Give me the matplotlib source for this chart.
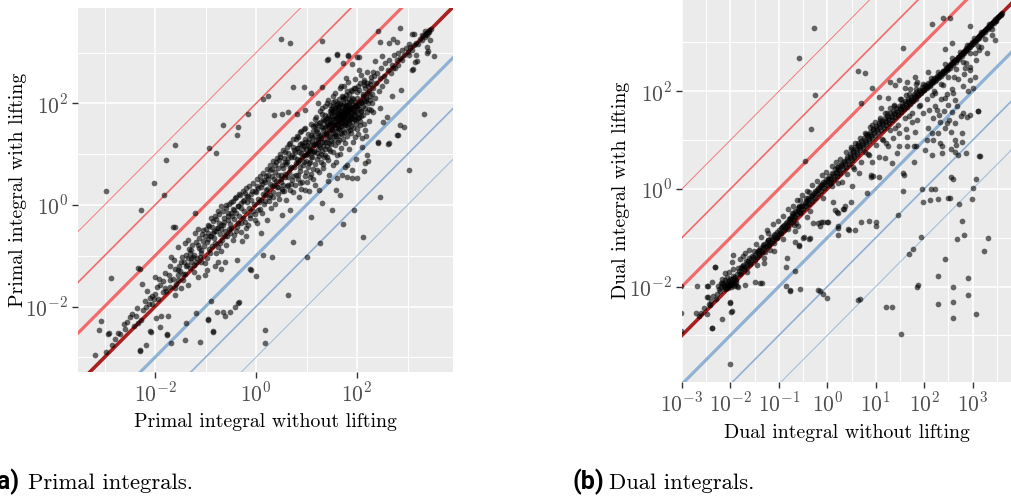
import matplotlib
matplotlib.use("Agg")
import matplotlib.pyplot as plt
import numpy as np

# values are log10 exponents: (without lifting, with lifting)
primal_sparse = [
    (-2.97, 0.28), (-2.03, 0.43), (-1.79, 0.89), (-1.60, 1.18), (-1.82, 0.20), (-2.28, -0.09),
    (-2.88, -1.43), (-2.34, -1.25), (-1.64, -0.43), (-0.93, 1.13), (-0.79, 1.03), (-0.66, 1.57),
    (-0.36, 1.54), (-0.38, 1.38), (-0.15, 1.80), (0.13, 2.08), (0.50, 3.27), (0.67, 3.20),
    (1.30, 3.23), (0.74, 2.33), (0.95, 2.32), (1.43, 2.87), (1.60, 2.95), (1.83, 2.95),
    (2.03, 2.92), (2.46, 3.22), (2.64, 3.20), (2.85, 3.49), (2.80, 3.22), (3.02, 3.18),
    (3.13, 3.37), (3.28, 3.35), (3.45, 3.25), (3.53, 2.93), (3.38, 2.99), (3.17, 2.95),
    (3.10, 2.67), (3.15, 2.82), (3.02, 0.69), (3.33, 1.79), (2.46, 0.15), (2.11, -0.64),
    (2.92, 1.54), (2.79, 1.38), (2.62, 1.21), (2.42, 1.22), (2.19, 0.98), (2.16, 0.83),
    (1.93, -0.10), (1.73, -0.37), (1.66, 0.20), (1.50, -0.10), (1.30, 0.03), (1.08, -0.24),
    (1.27, -0.75), (1.00, -1.02), (0.74, -0.72), (0.64, -1.77), (0.32, -1.02), (0.00, -1.40),
    (-0.11, -1.27), (0.17, -2.46), (0.18, -2.72), (-0.35, -1.94), (-0.51, -2.10), (-0.65, -2.10),
    (-0.86, -2.51), (-0.96, -2.26), (-1.11, -2.69), (-1.41, -2.66), (-1.69, -2.72), (-1.76, -2.56),
    (-2.07, -2.51), (-2.30, -2.86), (-2.73, -2.53), (-2.92, -2.53), (-3.11, -2.47), (-3.07, -2.28),
    (-3.19, -2.95), (-2.97, -2.89), (-2.86, -2.76),
]

primal_band_low = [
    (-2.79, -2.64), (-2.70, -2.54), (-2.93, -2.54), (-2.50, -2.21), (-2.36, -2.03), (-2.34, -2.33),
    (-2.27, -2.26), (-2.17, -2.76), (-2.30, -2.87), (-2.10, -2.49), (-1.99, -2.23), (-1.88, -2.19),
    (-1.74, -2.19), (-1.76, -2.55), (-1.38, -2.32), (-1.18, -2.12), (-0.95, -2.25), (-0.85, -2.49),
    (-0.77, -2.10), (-0.62, -2.19), (-0.90, -1.89), (-0.41, -2.01), (-0.34, -1.92), (-0.09, -1.28),
    (0.14, -0.98), (0.10, -0.56), (-0.37, -1.08), (-0.75, -1.12), (-0.81, -1.21), (-0.69, -1.27),
    (-1.02, -1.38), (-0.98, -1.28), (-1.15, -1.42), (-1.35, -1.57), (-1.48, -1.64), (-1.61, -1.64),
    (-2.01, -1.42), (-2.30, -1.27), (-2.09, -1.84), (-2.05, -1.80), (-2.02, -1.86), (-2.17, -2.00),
    (-2.24, -2.07), (-1.97, -1.61), (-1.91, -1.57), (-1.81, -1.64), (-1.71, -1.61), (-1.60, -1.77),
    (-1.54, -1.48), (-1.73, -1.38), (-1.61, -1.26), (-1.54, -1.28), (-1.41, -1.36), (-1.43, -1.12),
    (-1.31, -0.95), (-1.25, -1.02), (-1.18, -1.12), (-1.08, -0.94), (-1.02, -1.14), (-0.94, -0.87),
    (-0.82, -0.74), (-0.72, -0.75), (-0.69, -0.90), (-0.62, -0.62), (-0.52, -0.55), (-0.46, -0.69),
    (-0.37, -0.43), (-0.29, -0.53), (-0.22, -0.33), (-0.19, -0.62), (-0.12, -0.20), (-0.03, -0.30),
    (0.04, -0.10), (0.09, 0.10), (0.17, 0.20), (-1.68, -1.02), (-1.54, -0.82), (-1.41, -0.75),
    (-1.35, -0.69), (-1.21, -0.56), (-1.15, -0.48), (-1.05, -0.49), (-0.95, -0.39), (-0.89, -0.26),
    (-0.82, -0.22), (-0.75, -0.11), (-0.69, -0.03), (-0.59, 0.00), (-0.49, 0.06), (-0.42, 0.13),
    (-0.32, 0.20), (-0.22, 0.23), (-1.71, -1.20), (-1.81, -1.34), (-2.25, -1.56), (-1.61, -0.43),
    (-1.20, -0.15), (-0.62, -1.12), (-1.91, -2.40), (-2.60, -2.45), (-2.55, -2.30), (-2.45, -2.15),
    (-2.42, -2.38), (-2.20, -1.90), (-2.12, -1.95), (-2.00, -1.75), (-1.95, -1.85), (-1.85, -1.50),
    (-1.78, -1.70), (-1.65, -1.45), (-1.58, -1.55), (-1.50, -1.30), (-1.45, -1.48), (-1.38, -1.20),
    (-1.30, -1.25), (-1.28, -1.05), (-1.22, -1.32), (-1.12, -0.85), (-1.10, -1.02), (-1.05, -0.70),
    (-0.98, -1.05), (-0.92, -0.62), (-0.88, -0.80), (-0.85, -0.55), (-0.80, -0.95), (-0.78, -0.45),
    (-0.72, -0.58), (-0.65, -0.40), (-0.60, -0.78), (-0.56, -0.30), (-0.54, -0.48), (-0.48, -0.22),
    (-0.44, -0.60), (-0.40, -0.15), (-0.35, -0.35), (-0.30, -0.05), (-0.27, -0.70), (-0.25, -0.25),
    (-0.18, 0.05), (-0.15, -0.40), (-0.10, 0.10), (-0.06, -0.12), (0.00, 0.25), (0.02, -0.35),
    (0.06, 0.05),
    (-0.98, -0.72), (-0.95, -0.55), (-0.91, -0.95), (-0.87, -0.43), (-0.84, -0.66), (-0.79, -0.52),
    (-0.76, -0.82), (-0.73, -0.35), (-0.70, -0.48), (-0.67, -0.69), (-0.64, -0.25), (-0.61, -0.52),
    (-0.58, -0.62), (-0.55, -0.15), (-0.52, -0.38), (-0.49, -0.45), (-0.46, -0.08), (-0.43, -0.28),
    (-0.39, -0.52), (-0.36, -0.02), (-0.33, -0.22), (-0.29, -0.35), (-0.26, 0.08), (-0.23, -0.12),
    (-0.20, -0.45), (-0.17, 0.18), (-0.14, -0.05), (-0.11, -0.25), (-0.08, 0.28), (-0.05, 0.02),
    (-0.02, -0.18), (-1.35, -1.05), (-1.28, -0.88), (-1.22, -1.18), (-1.15, -0.78), (-1.08, -1.12),
    (-1.02, -0.62), (-1.48, -1.12), (-1.55, -1.38), (-1.62, -1.08), (-1.70, -1.48), (-1.85, -1.72),
    (-1.92, -1.45), (-2.05, -1.95), (-2.15, -1.70), (-2.38, -2.18), (-2.62, -2.35),
]

primal_band_fill = [
    (-1.52, -1.21), (-1.47, -1.02), (-1.44, -1.35), (-1.39, -0.98), (-1.36, -1.18), (-1.33, -0.86),
    (-1.29, -1.12), (-1.26, -0.79), (-1.23, -0.98), (-1.19, -0.72), (-1.16, -1.05), (-1.13, -0.66),
    (-1.09, -0.88), (-1.06, -0.58), (-1.03, -0.81), (-0.99, -0.48), (-0.96, -0.68), (-0.93, -0.42),
    (-0.89, -0.61), (-0.86, -0.32), (-0.83, -0.52), (-0.79, -0.27), (-0.76, -0.46), (-0.73, -0.18),
    (-0.69, -0.39), (-0.66, -0.12), (-0.63, -0.33), (-0.59, -0.06), (-0.56, -0.22), (-0.53, 0.02),
    (-0.49, -0.16), (-0.46, 0.08), (-0.43, -0.09), (-0.39, 0.15), (-0.36, -0.03), (-0.33, 0.21),
    (-0.29, 0.04), (-0.26, 0.27), (-0.23, 0.10), (-0.19, 0.33), (-0.16, 0.15), (-0.13, 0.38),
    (-0.09, 0.22), (-0.06, 0.44), (-0.03, 0.27), (0.01, 0.51), (0.04, 0.33), (0.07, 0.57),
    (0.11, 0.41), (0.14, 0.63), (0.17, 0.46), (0.21, 0.71), (0.24, 0.52), (0.27, 0.78),
    (0.31, 0.58), (0.34, 0.86), (0.37, 0.65), (0.41, 0.93), (0.44, 0.72), (0.47, 1.01),
    (0.51, 0.78), (0.54, 1.08), (0.57, 0.84), (0.61, 1.15), (0.64, 0.92), (0.67, 1.22),
    (0.71, 0.99), (0.74, 1.29), (0.77, 1.05), (0.81, 1.36), (0.84, 1.12), (0.87, 1.43),
    (0.91, 1.18), (0.94, 1.49), (0.97, 1.25), (1.12, 1.56), (1.18, 1.74), (1.24, 1.61),
    (1.31, 1.92), (1.37, 1.68), (1.43, 2.07), (1.50, 1.88), (1.56, 2.21), (1.63, 2.01),
    (1.69, 2.35), (1.76, 2.10), (1.82, 2.42), (1.88, 2.27), (1.95, 2.48), (2.01, 2.35),
    (2.07, 2.56), (2.14, 2.47), (2.20, 2.62), (2.26, 2.38), (2.31, 2.62), (1.36, 1.52),
    (1.47, 1.62), (1.57, 1.69), (1.67, 1.78), (1.77, 1.83), (1.87, 1.90), (1.97, 1.95),
    (2.07, 2.02), (2.17, 2.08), (1.52, 1.94), (1.63, 1.93), (1.73, 2.00), (1.81, 1.95),
    (1.92, 2.08),
]

primal_band_mid = [
    (0.10, 0.35), (0.12, -0.15), (0.15, 0.50), (0.18, 0.08), (0.20, 0.30), (0.22, -0.30),
    (0.24, 0.60), (0.25, 0.15), (0.28, 0.42), (0.30, -0.05), (0.32, 0.70), (0.33, 0.25),
    (0.36, 0.52), (0.38, 0.02), (0.40, 0.85), (0.41, 0.35), (0.44, 0.60), (0.45, 0.12),
    (0.48, 0.95), (0.50, 0.45), (0.51, -0.20), (0.53, 0.72), (0.55, 0.28), (0.57, 1.05),
    (0.58, 0.55), (0.60, 0.10), (0.62, 0.85), (0.63, 0.40), (0.65, 1.20), (0.66, 0.65),
    (0.68, -0.10), (0.70, 0.95), (0.71, 0.50), (0.73, 0.25), (0.74, 1.15), (0.76, 0.75),
    (0.78, 0.40), (0.80, 1.30), (0.81, 0.90), (0.83, 0.60), (0.85, 0.15), (0.86, 1.05),
    (0.88, 0.75), (0.90, 1.45), (0.91, 0.45), (0.93, 1.10), (0.94, 0.85), (0.96, 0.30),
    (0.97, 1.30), (0.98, 0.65), (1.00, 1.00), (0.51, 0.28), (0.67, 0.30), (0.87, 0.43),
    (1.04, 0.28), (1.25, 0.30), (1.43, 0.47), (1.58, 0.30), (1.60, 0.53), (1.80, 0.55),
    (1.90, 0.54), (1.99, 0.53), (1.80, 0.79), (1.70, 0.60), (1.91, 0.68), (2.14, 0.67),
    (2.22, 0.87), (2.42, 1.24), (2.63, 1.22), (2.82, 1.37), (2.32, 1.84), (2.46, 1.91),
    (2.59, 1.73), (2.52, 1.63), (2.85, 1.57), (2.69, 2.14), (2.87, 2.27),
    (0.01, 0.38), (0.04, 0.12), (0.07, -0.08), (0.10, 0.48), (0.13, 0.22), (0.16, 0.02),
    (0.19, 0.58), (0.22, 0.32), (0.25, 0.08), (0.28, 0.68), (0.31, 0.38), (0.34, 0.15),
    (0.37, 0.78), (0.40, 0.48), (0.43, 0.22), (0.46, 0.88), (0.49, 0.52), (0.52, 0.32),
    (0.55, 0.92), (0.58, 0.62), (0.61, 0.38), (0.64, 1.02), (0.67, 0.72), (0.70, 0.42),
    (0.73, 0.58), (0.76, 1.08), (0.79, 0.82),
]

primal_band_core = [
    (1.02, 1.40), (1.03, 0.75), (1.05, 1.15), (1.06, 0.55), (1.08, 1.60), (1.09, 0.95),
    (1.10, 1.25), (1.12, 0.70), (1.13, 1.45), (1.14, 1.05), (1.16, 0.40), (1.17, 1.70),
    (1.18, 1.20), (1.20, 0.90), (1.21, 1.50), (1.22, 1.10), (1.24, 0.65), (1.25, 1.35),
    (1.26, 1.85), (1.28, 1.00), (1.29, 1.55), (1.30, 1.25), (1.32, 0.80), (1.33, 1.70),
    (1.34, 1.40), (1.36, 1.10), (1.37, 1.95), (1.38, 1.55), (1.40, 0.95), (1.41, 1.30),
    (1.42, 1.75), (1.44, 1.45), (1.45, 0.60), (1.46, 1.60), (1.48, 1.20), (1.49, 1.90),
    (1.50, 1.50), (1.52, 1.05), (1.53, 1.70), (1.54, 1.35), (1.56, 2.05), (1.57, 1.60),
    (1.58, 0.85), (1.60, 1.80), (1.61, 1.45), (1.62, 1.25), (1.64, 1.95), (1.65, 1.65),
    (1.66, 1.00), (1.68, 1.85), (1.69, 1.55), (1.70, 2.15), (1.72, 1.75), (1.73, 1.30),
    (1.74, 1.95), (1.76, 1.60), (1.77, 0.75), (1.78, 1.85), (1.80, 1.70), (1.81, 2.25),
    (1.82, 1.45), (1.84, 1.90), (1.85, 1.10), (1.86, 1.75), (1.88, 2.05), (1.89, 1.55),
    (1.90, 1.90), (1.92, 1.25), (1.93, 2.30), (1.94, 1.70), (1.96, 1.95), (1.97, 0.90),
    (1.98, 1.60), (2.00, 2.10), (2.01, 1.80), (2.02, 1.40), (2.04, 2.00), (2.05, 1.65),
    (2.06, 2.40), (2.08, 1.85), (2.10, 1.15), (2.11, 2.15), (2.12, 1.95), (2.14, 1.60),
    (2.15, 2.30), (2.17, 2.05), (2.18, 1.35), (2.20, 2.20), (1.50, 1.75), (1.55, 1.85),
    (1.60, 1.60), (1.62, 1.90), (1.66, 1.75), (1.70, 1.85), (1.72, 1.65), (1.75, 1.80),
    (1.78, 1.95), (1.80, 1.85), (1.83, 1.65), (1.85, 2.00), (1.87, 1.85), (1.58, 1.72),
    (1.63, 1.82), (1.68, 1.70), (1.74, 1.88), (1.79, 1.78), (1.52, 1.60), (1.46, 1.85),
    (1.42, 1.58), (1.35, 1.65), (1.38, 1.25), (1.27, 1.15), (1.23, 1.30), (1.15, 1.35),
    (1.11, 1.05), (1.07, 0.85), (0.98, 1.10), (0.92, 0.95), (0.88, 1.20), (0.84, 0.85),
    (0.79, 0.60), (0.75, 0.95), (0.69, 0.75), (0.64, 0.55), (0.59, 0.80), (0.54, 0.40),
    (0.49, 0.60), (0.43, 0.35), (0.35, 0.40), (0.27, 0.20), (1.88, 1.72), (1.91, 1.82),
    (1.95, 1.75), (1.99, 1.95), (2.03, 1.90), (2.07, 1.75), (2.09, 2.00), (2.13, 2.05),
    (1.71, 1.40), (1.65, 1.50), (1.57, 1.40), (1.47, 1.35), (1.44, 1.10), (1.34, 0.95),
    (1.19, 1.60), (1.31, 1.80), (1.40, 2.00), (1.53, 2.15), (1.67, 2.30), (1.75, 2.35),
]

primal_core_dense = [
    (0.81, 1.12), (0.83, 0.52), (0.84, 1.33), (0.86, 0.88), (0.87, 0.67), (0.89, 1.02),
    (0.90, 0.31), (0.92, 1.22), (0.93, 0.78), (0.95, 0.99), (0.96, 1.51), (0.97, 0.58),
    (0.99, 0.87), (1.00, 1.18), (1.01, 0.45), (1.03, 1.02), (1.04, 1.29), (1.05, 0.83),
    (1.07, 1.11), (1.08, 0.62), (1.09, 1.38), (1.11, 0.94), (1.12, 1.21), (1.13, 0.52),
    (1.15, 1.07), (1.16, 1.55), (1.17, 0.81), (1.19, 1.28), (1.20, 1.03), (1.21, 0.68),
    (1.23, 1.42), (1.24, 0.97), (1.25, 1.19), (1.27, 1.63), (1.28, 0.85), (1.29, 1.32),
    (1.31, 1.07), (1.32, 1.48), (1.33, 0.72), (1.35, 1.25), (1.36, 1.78), (1.37, 0.99),
    (1.39, 1.41), (1.40, 1.16), (1.41, 1.62), (1.43, 0.88), (1.44, 1.33), (1.45, 1.72),
    (1.47, 1.07), (1.48, 1.49), (1.49, 1.27), (1.51, 1.83), (1.52, 0.79), (1.53, 1.42),
    (1.55, 1.58), (1.56, 1.18), (1.57, 1.93), (1.59, 1.36), (1.60, 1.69), (1.61, 0.98),
    (1.63, 1.52), (1.64, 1.77), (1.65, 1.28), (1.67, 1.98), (1.68, 1.62), (1.69, 1.13),
    (1.71, 1.79), (1.72, 1.47), (1.73, 2.08), (1.75, 1.69), (1.76, 1.23), (1.77, 1.88),
    (1.79, 1.58), (1.80, 2.02), (1.81, 1.36), (1.83, 1.81), (1.84, 1.62), (1.85, 2.18),
    (1.87, 1.47), (1.88, 1.93), (1.89, 1.71), (1.91, 2.11), (1.92, 1.52), (1.93, 1.86),
    (1.95, 1.33), (1.96, 2.03), (1.97, 1.68), (1.99, 2.22), (2.00, 1.49), (2.01, 1.96),
    (2.03, 1.74), (2.04, 2.27), (2.05, 1.58), (2.07, 2.05), (2.08, 1.86), (2.09, 1.31),
    (2.11, 2.19), (2.12, 1.77), (2.13, 2.36), (2.15, 1.92), (2.16, 1.48), (2.17, 2.13),
    (2.19, 1.83), (2.20, 2.41), (2.21, 2.01), (2.23, 1.66), (2.24, 2.24), (2.25, 2.07),
    (2.27, 1.88), (2.28, 2.52), (2.29, 2.18),
    (1.41, 1.71), (1.43, 1.55), (1.46, 1.68), (1.48, 1.82), (1.50, 1.63), (1.51, 1.47),
    (1.54, 1.76), (1.56, 1.91), (1.58, 1.52), (1.59, 1.84), (1.61, 1.73), (1.62, 1.58),
    (1.64, 1.66), (1.66, 1.88), (1.67, 1.53), (1.69, 1.77), (1.70, 1.96), (1.71, 1.62),
    (1.73, 1.72), (1.74, 1.57), (1.76, 1.91), (1.77, 1.74), (1.78, 1.63), (1.80, 1.97),
    (1.82, 1.76), (1.83, 1.88), (1.85, 1.68), (1.86, 1.93), (1.88, 1.78), (1.90, 1.64),
    (1.91, 1.99), (1.93, 1.79), (1.94, 1.88), (1.96, 1.69), (1.98, 1.84), (2.00, 1.92),
    (2.02, 1.71), (1.47, 1.97), (1.53, 2.03), (1.60, 1.98), (1.65, 2.08), (1.72, 2.12),
    (1.79, 2.16), (1.84, 2.09), (1.90, 2.24), (1.96, 2.31), (1.55, 1.28), (1.62, 1.35),
    (1.68, 1.42), (1.75, 1.44), (1.82, 1.53), (1.89, 1.41), (1.44, 1.22), (1.38, 1.39),
    (1.33, 1.17), (1.30, 1.53), (1.26, 1.37), (1.22, 1.22), (1.18, 1.46), (1.14, 1.18),
    (1.10, 1.33), (1.06, 1.07), (1.02, 1.24), (0.99, 0.98), (0.95, 1.16),
]

primal_band_high = [
    (2.22, 2.35), (2.24, 1.90), (2.26, 2.15), (2.28, 2.45), (2.30, 2.00), (2.32, 2.30),
    (2.34, 2.55), (2.36, 2.10), (2.38, 2.40), (2.40, 2.60), (2.43, 2.25), (2.45, 2.50),
    (2.48, 2.70), (2.50, 2.35), (2.53, 2.55), (2.56, 2.80), (2.58, 2.45), (2.61, 2.65),
    (2.64, 2.85), (2.67, 2.60), (2.70, 2.75), (2.73, 2.95), (2.76, 2.70), (2.79, 2.85),
    (2.82, 3.00), (2.86, 2.90), (2.89, 3.05), (2.93, 2.95), (2.96, 3.10), (3.00, 3.02),
    (3.04, 3.12), (3.08, 3.05), (3.12, 3.15), (3.16, 3.20), (3.20, 3.18), (3.24, 3.26),
    (3.28, 3.25), (3.31, 3.32), (3.34, 3.30), (3.37, 3.38), (3.40, 3.40), (3.43, 3.45),
    (3.46, 3.46), (3.42, 3.40), (3.39, 3.35), (3.36, 3.36), (2.42, 3.43), (2.71, 3.27),
    (3.08, 3.37), (3.35, 3.42), (3.38, 3.12), (3.41, 3.04), (3.18, 2.84), (3.08, 2.66),
    (3.02, 2.96), (2.89, 2.86), (2.82, 2.76), (2.72, 2.70), (2.36, 2.83), (2.50, 2.94),
    (1.60, 2.97), (1.41, 2.86), (1.82, 2.94), (1.73, 2.80), (1.90, 2.78), (1.99, 2.91),
    (2.03, 2.66), (2.14, 2.43), (1.78, 2.51), (1.30, 2.32), (1.09, 2.20), (0.24, 2.14),
    (0.36, 1.78), (0.51, 1.79), (0.64, 1.83), (0.81, 1.79), (0.97, 1.88), (1.23, 2.01),
]

dual_sparse = [
    (-0.27, 3.29), (-0.59, 2.68), (-0.25, 1.93), (-0.34, 1.22), (-0.47, 0.58), (1.56, 2.88),
    (2.15, 3.37), (2.39, 3.50), (2.53, 3.50), (2.94, 3.34), (0.64, 2.42), (0.77, 2.38),
    (0.92, 2.06), (-3.02, -2.55), (-2.68, -1.98), (-2.32, -1.59), (-2.46, -1.98), (-2.70, -2.55),
    (-2.39, -2.86), (-2.17, -2.67), (-2.46, -2.21), (-2.00, -2.31), (-1.96, -2.51), (-2.00, -3.59),
    (-1.34, -1.93), (-0.78, -2.09), (-0.56, -2.05), (-0.16, -2.10), (-0.01, -2.23), (0.64, -2.27),
    (0.68, -2.25), (1.21, -2.42), (1.33, -2.42), (1.52, -2.98), (1.88, -1.97), (1.86, -2.01),
    (2.28, -2.36), (2.43, -1.44), (2.59, -2.32), (2.59, -2.65), (2.59, -2.01), (2.91, -1.83),
    (2.90, -2.17), (3.07, -2.56), (3.23, -1.28), (3.31, -1.00), (2.82, -0.94), (2.68, -1.02),
    (1.93, -0.99), (1.76, -1.24), (1.69, -1.33), (3.13, 0.68), (3.10, 1.60), (2.29, -0.20),
    (2.11, -0.23), (1.97, -0.27), (2.29, -1.78), (2.77, -0.66), (2.71, -0.31), (2.53, -0.19),
    (2.99, -0.20), (1.95, 0.00), (1.58, 0.29), (1.45, -0.53), (1.56, -0.05), (2.14, 0.00),
    (2.59, 0.20), (3.07, 0.20), (2.50, -0.19), (2.22, -0.01), (3.00, 0.01), (2.86, 0.73),
    (2.70, 0.70), (2.56, 0.81), (2.65, 0.90), (2.77, 1.14), (2.88, 1.48), (2.33, 0.94),
    (2.28, 1.14), (2.19, 1.00), (1.79, 0.87), (1.65, 0.87), (1.43, 0.74), (1.19, 0.64),
    (0.95, 0.27), (0.90, 0.29), (0.82, -0.09), (1.00, -0.67), (1.01, -0.77), (0.85, -0.65),
    (0.70, -0.67), (0.58, -0.84), (0.45, -0.84), (0.23, -0.94), (0.23, -0.77), (0.32, -0.42),
    (0.00, -0.67), (-0.13, -0.67), (-0.16, -0.77), (-0.37, -1.03), (-0.49, -0.99), (-0.59, -1.18),
    (-0.61, -0.77), (-0.83, -1.42), (-0.86, -1.59), (-0.56, -0.50), (0.15, -0.43), (0.11, -0.26),
    (0.37, -0.36), (0.49, -0.26), (0.22, -0.50), (-3.02, -1.98), (-3.02, -2.92), (-2.48, -1.98),
    (-2.37, -1.90), (-2.48, -2.22), (-2.30, -2.25), (-2.43, -2.38), (-2.48, -2.56), (-2.39, -2.85),
    (-2.00, -2.33), (-1.98, -2.53), (-2.32, -1.60), (-1.70, -1.97), (-1.50, -1.91), (-1.38, -1.92),
    (-0.67, -1.69), (-0.86, -1.98), (-0.76, -2.08), (-0.19, -2.07), (-0.08, -2.16), (-0.66, -0.86),
    (-0.67, -1.08), (-0.59, -1.15), (-0.50, -1.00), (-0.36, -1.00), (-0.29, -0.70), (-0.20, -0.69),
    (-0.08, -0.67), (0.01, -0.68), (0.20, -0.47), (0.34, -0.42), (0.23, -0.81), (0.43, -0.83),
]

dual_band_low = [
    (-2.25, -1.98), (-2.20, -2.02), (-2.15, -1.95), (-2.12, -2.05), (-2.10, -1.90), (-2.08, -1.98),
    (-2.05, -2.03), (-2.03, -1.88), (-2.00, -1.96), (-1.98, -2.01), (-1.96, -1.85), (-1.94, -1.93),
    (-1.92, -1.99), (-1.90, -1.80), (-1.88, -1.90), (-2.06, -1.80), (-2.12, -1.72), (-2.02, -1.70),
    (-1.95, -1.65), (-2.18, -1.85), (-2.22, -2.10), (-2.28, -2.15), (-2.35, -2.20), (-2.40, -2.30),
    (-2.45, -2.35), (-2.55, -2.45), (-2.60, -2.55), (-2.65, -2.60), (-1.86, -1.98), (-1.84, -2.00),
    (-1.80, -1.75), (-1.85, -1.62), (-1.78, -1.60), (-1.75, -1.55), (-1.72, -1.65), (-1.68, -1.48),
    (-1.65, -1.58), (-1.62, -1.42), (-1.58, -1.50), (-1.55, -1.38), (-1.50, -1.45), (-1.46, -1.30),
    (-1.42, -1.35), (-1.38, -1.22), (-1.35, -1.30), (-1.32, -1.15), (-1.28, -1.20), (-1.25, -1.08),
    (-1.20, -1.12), (-1.16, -0.98), (-1.12, -1.05), (-1.08, -0.92), (-1.04, -0.98), (-1.00, -0.85),
    (-0.96, -0.90), (-0.93, -0.78), (-0.90, -0.84), (-0.86, -0.70), (-0.83, -0.75), (-0.80, -0.62),
    (-0.76, -0.68), (-0.72, -0.55), (-0.70, -0.62), (-0.66, -0.45), (-0.63, -0.52), (-0.60, -0.40),
    (-0.57, -0.48), (-0.54, -0.35), (-0.50, -0.42), (-0.47, -0.28), (-0.44, -0.35), (-0.40, -0.22),
    (-0.37, -0.30), (-0.34, -0.15), (-0.31, -0.24), (-0.28, -0.08), (-0.25, -0.18), (-0.22, -0.02),
    (-0.19, -0.10), (-0.16, 0.05), (-0.13, -0.04), (-0.10, 0.10), (-0.07, 0.02), (-0.04, 0.15),
    (-0.01, 0.08), (0.02, 0.20), (0.05, 0.12), (-1.94, -1.35), (-1.96, -1.49), (-1.80, -1.44),
    (-1.69, -1.32), (-1.52, -1.28), (-1.41, -1.25), (-1.30, -1.42), (-1.31, -1.52), (-1.28, -1.30),
    (-1.21, -1.15), (-1.10, -1.28), (-1.10, -1.10), (-1.23, -0.91), (-1.23, -1.05), (-1.03, -1.01),
    (-0.97, -0.90), (-0.90, -0.74), (-0.81, -0.83), (-0.76, -0.62), (-0.73, -0.50), (-0.66, -0.57),
    (-0.68, -0.74), (-0.59, -0.36), (-0.56, -0.23), (-0.45, -0.19), (-0.38, -0.06), (-0.42, -0.57),
    (-2.24, -2.06), (-2.19, -1.93), (-2.14, -2.01), (-2.11, -1.87), (-2.07, -1.94), (-2.04, -1.99),
    (-2.01, -1.84), (-1.99, -1.92), (-1.97, -1.97), (-1.93, -1.83), (-1.91, -1.95), (-1.89, -1.86),
    (-2.13, -1.98), (-2.09, -2.04), (-2.03, -1.95), (-1.99, -1.88), (-1.95, -1.79), (-2.17, -1.92),
    (-1.87, -1.74), (-1.83, -1.68), (-1.79, -1.70), (-1.76, -1.63), (-1.73, -1.57), (-1.70, -1.60),
    (-1.66, -1.52), (-1.63, -1.47), (-1.60, -1.53), (-1.57, -1.43), (-1.53, -1.40), (-1.49, -1.36),
    (-1.45, -1.40), (-1.43, -1.27), (-1.40, -1.31), (-1.36, -1.25), (-1.33, -1.20), (-1.30, -1.12),
    (-1.26, -1.16), (-1.22, -1.05), (-1.18, -1.08), (-1.14, -1.02), (-1.11, -0.95), (-1.07, -0.98),
    (-1.03, -0.88), (-0.99, -0.92), (-0.95, -0.80), (-0.91, -0.76), (-0.88, -0.80), (-0.84, -0.68),
    (-0.81, -0.71), (-0.78, -0.60), (-0.74, -0.63), (-0.71, -0.52), (-0.68, -0.56), (-0.64, -0.48),
    (-0.61, -0.45), (-0.58, -0.38), (-0.55, -0.42), (-0.52, -0.32), (-0.49, -0.35), (-0.45, -0.25),
    (-0.42, -0.28), (-0.39, -0.18), (-0.35, -0.20), (-0.32, -0.12), (-0.29, -0.15), (-0.26, -0.05),
    (-0.23, -0.09), (-0.20, 0.02), (-0.17, -0.01), (-0.14, 0.08), (-0.11, 0.04), (-0.08, 0.15),
    (-0.05, 0.10), (-0.02, 0.20), (0.01, 0.16),
    (-1.75, -1.38), (-1.62, -1.25), (-1.48, -1.12), (-1.37, -0.98), (-1.24, -0.85), (-1.12, -0.72),
    (-1.02, -0.66), (-0.92, -0.55), (-0.82, -0.42), (-0.71, -0.35), (-0.62, -0.22), (-0.52, -0.12),
    (-0.41, -0.05), (-0.31, 0.08), (-0.21, 0.16), (-0.12, 0.28), (-0.02, 0.35), (-1.66, -1.70),
    (-1.45, -1.55), (-1.18, -1.25), (-0.92, -1.02), (-0.64, -0.70), (-0.35, -0.45), (-0.08, -0.18),
]

dual_band_high = [
    (0.05, 0.22), (0.08, 0.15), (0.11, 0.30), (0.14, 0.20), (0.17, 0.35), (0.20, 0.26),
    (0.23, 0.40), (0.26, 0.32), (0.29, 0.48), (0.32, 0.40), (0.35, 0.55), (0.38, 0.45),
    (0.41, 0.62), (0.44, 0.52), (0.47, 0.68), (0.50, 0.60), (0.53, 0.75), (0.56, 0.65),
    (0.59, 0.82), (0.62, 0.72), (0.65, 0.88), (0.68, 0.80), (0.71, 0.95), (0.74, 0.85),
    (0.77, 1.00), (0.80, 0.92), (0.83, 1.08), (0.86, 0.98), (0.89, 1.12), (0.92, 1.05),
    (0.95, 1.20), (0.98, 1.10), (1.01, 1.25), (1.04, 1.16), (1.07, 1.30), (1.10, 1.20),
    (1.13, 1.35), (1.16, 1.25), (1.19, 1.40), (1.22, 1.30), (1.25, 1.45), (1.28, 1.36),
    (1.31, 1.50), (1.34, 1.42), (1.37, 1.55), (1.40, 1.48), (1.43, 1.60), (1.46, 1.52),
    (1.49, 1.65), (1.52, 1.58), (1.55, 1.70), (1.58, 1.63), (1.61, 1.75), (1.64, 1.68),
    (1.67, 1.80), (1.70, 1.74), (1.73, 1.85), (1.76, 1.80), (1.79, 1.90), (1.82, 1.85),
    (1.85, 1.95), (1.88, 1.92), (1.91, 2.00), (1.94, 1.97), (1.97, 2.05), (2.00, 2.02),
    (2.03, 2.10), (2.06, 2.08), (2.09, 2.15), (2.12, 2.13), (2.15, 2.20), (2.18, 2.18),
    (2.21, 2.25), (2.24, 2.23), (2.27, 2.30), (2.30, 2.29), (2.33, 2.36), (2.36, 2.35),
    (2.39, 2.42), (2.42, 2.40), (2.45, 2.47), (2.48, 2.46), (2.51, 2.53), (2.54, 2.52),
    (2.57, 2.59), (2.60, 2.58), (2.63, 2.65), (2.66, 2.64), (2.69, 2.71), (2.72, 2.70),
    (2.75, 2.77), (2.78, 2.76), (2.81, 2.82), (2.84, 2.82), (2.87, 2.88), (2.90, 2.89),
    (2.93, 2.94), (2.96, 2.95), (2.99, 3.00), (3.02, 3.01), (3.05, 3.06), (3.08, 3.07),
    (3.11, 3.12), (3.14, 3.13), (3.17, 3.18), (3.20, 3.19), (3.23, 3.24), (3.26, 3.25),
    (3.29, 3.30), (3.32, 3.31), (3.35, 3.36), (3.38, 3.37), (3.41, 3.42), (3.44, 3.43),
    (3.47, 3.48), (3.50, 3.50), (3.53, 3.53), (3.56, 3.56), (3.59, 3.59),
    (0.10, 0.05), (0.20, 0.45), (0.30, 0.15), (0.40, 0.30), (0.48, 0.85), (0.55, 0.40),
    (0.63, 0.95), (0.70, 0.55), (0.78, 1.15), (0.85, 0.70), (0.93, 1.30), (1.00, 0.90),
    (1.08, 1.45), (1.15, 1.00), (1.23, 1.55), (1.30, 1.20), (1.38, 1.70), (1.45, 1.30),
    (1.53, 1.85), (1.60, 1.45), (1.68, 1.95), (1.75, 1.55), (1.83, 2.05), (1.90, 1.70),
    (1.98, 2.15), (2.05, 1.85), (2.13, 2.28), (2.20, 2.00), (2.28, 2.40), (2.35, 2.15),
    (2.43, 2.55), (2.50, 2.30), (2.58, 2.68), (2.65, 2.45), (2.73, 2.80), (2.80, 2.60),
    (2.88, 2.95), (2.95, 2.78), (3.03, 3.10), (3.10, 2.92), (3.18, 3.22), (3.25, 3.08),
    (3.33, 3.38), (3.40, 3.28), (3.48, 3.45),
    (0.70, 1.76), (1.06, 1.89), (1.11, 1.65), (1.26, 1.86), (1.40, 2.13), (1.30, 2.18),
    (1.47, 2.23), (1.64, 2.20), (1.60, 2.06), (1.81, 2.30), (1.85, 2.20), (2.08, 2.40),
    (2.22, 1.96), (2.43, 1.86), (2.63, 1.82), (2.60, 1.96), (2.80, 2.10), (2.94, 2.23),
    (2.84, 2.47), (2.94, 2.44), (3.01, 2.06), (2.80, 1.55), (2.94, 1.52), (3.11, 1.60),
    (2.57, 1.58), (2.63, 1.35), (2.46, 1.35), (2.43, 1.24), (2.33, 1.38), (2.26, 1.62),
    (2.19, 1.45), (2.17, 1.14), (2.07, 1.24), (2.05, 1.00), (2.02, 0.80), (2.15, 0.70),
    (2.36, 0.87), (2.37, 0.73), (2.63, 0.76), (2.55, 0.25), (2.77, 0.97), (2.55, 1.17),
    (2.63, 1.00), (3.15, 0.68), (1.83, 0.87), (1.78, 0.56), (1.57, 0.32), (1.33, 0.53),
    (1.47, 0.87), (1.64, 1.07), (1.81, 1.17), (1.26, 0.87), (1.06, 0.66), (0.92, 0.56),
    (0.78, 0.76), (0.66, 0.32), (0.91, 0.25), (1.06, 0.25), (0.51, 0.05), (3.39, 3.16),
    (3.46, 3.05), (3.29, 2.78), (3.18, 2.91), (3.05, 2.79), (2.57, 2.99), (2.43, 2.86),
    (0.09, 0.46), (0.18, 0.55), (0.27, 0.62), (0.39, 0.75), (0.48, 0.82), (0.57, 0.95),
    (0.68, 1.05), (0.79, 1.12), (0.88, 1.26), (0.99, 1.38), (1.08, 1.42), (1.19, 1.55),
    (1.29, 1.66), (1.38, 1.72), (1.50, 1.85), (1.62, 1.92), (1.71, 2.05), (1.83, 2.15),
    (0.21, 0.12), (0.52, 0.45), (0.83, 0.72), (1.12, 1.02),
]

dual_band_dense = [
    (0.04, 0.26), (0.07, 0.21), (0.10, 0.33), (0.13, 0.27), (0.16, 0.40), (0.19, 0.33),
    (0.22, 0.45), (0.25, 0.38), (0.28, 0.52), (0.31, 0.46), (0.34, 0.58), (0.37, 0.50),
    (0.40, 0.65), (0.43, 0.57), (0.46, 0.72), (0.49, 0.63), (0.52, 0.78), (0.55, 0.70),
    (0.58, 0.85), (0.61, 0.76), (0.64, 0.90), (0.67, 0.83), (0.70, 0.99), (0.73, 0.89),
    (0.76, 1.04), (0.79, 0.96), (0.82, 1.11), (0.85, 1.02), (0.88, 1.16), (0.91, 1.08),
    (0.94, 1.23), (0.97, 1.14), (1.00, 1.28), (1.03, 1.20), (1.06, 1.34), (1.09, 1.27),
    (1.12, 1.40), (1.15, 1.31), (1.18, 1.45), (1.21, 1.37), (1.24, 1.50), (1.27, 1.42),
    (1.30, 1.56), (1.33, 1.47), (1.36, 1.60), (1.39, 1.53), (1.42, 1.66), (1.45, 1.58),
    (1.48, 1.70), (1.51, 1.63), (1.54, 1.76), (1.57, 1.67), (1.60, 1.80), (1.63, 1.72),
    (1.66, 1.84), (1.69, 1.78), (1.72, 1.89), (1.75, 1.83), (1.78, 1.94), (1.81, 1.88),
    (1.84, 1.98), (1.87, 1.93), (1.90, 2.03), (1.93, 1.98), (1.96, 2.08), (1.99, 2.03),
    (2.02, 2.12), (2.05, 2.06), (2.08, 2.17), (2.11, 2.11), (2.14, 2.22), (2.17, 2.16),
    (2.20, 2.27), (2.23, 2.21), (2.26, 2.31), (2.29, 2.27), (2.32, 2.35), (2.35, 2.32),
    (2.38, 2.41), (2.41, 2.37), (2.44, 2.46), (2.47, 2.43), (2.50, 2.50), (2.53, 2.48),
    (2.56, 2.56), (2.59, 2.53), (2.62, 2.62), (2.65, 2.60), (2.68, 2.67), (2.71, 2.66),
    (2.74, 2.73), (2.77, 2.72), (2.80, 2.79), (2.83, 2.78), (2.86, 2.85), (2.89, 2.84),
    (2.92, 2.91), (2.95, 2.90), (2.98, 2.97), (3.01, 2.97), (3.04, 3.03), (3.07, 3.03),
    (3.10, 3.09), (3.13, 3.09), (3.16, 3.15), (3.19, 3.15), (3.22, 3.21), (3.25, 3.22),
    (3.28, 3.27), (3.31, 3.28), (3.34, 3.33), (3.37, 3.34), (3.40, 3.39), (3.43, 3.40),
    (3.46, 3.45), (3.49, 3.46), (3.52, 3.52), (3.55, 3.54), (3.58, 3.57), (3.61, 3.61),
    (1.22, 0.95), (1.35, 1.05), (1.48, 1.15), (1.62, 1.22), (1.74, 1.38), (1.86, 1.42),
    (1.98, 1.55), (2.10, 1.62), (2.22, 1.70), (2.34, 1.85), (2.46, 1.95), (2.58, 2.05),
    (2.70, 2.25), (2.82, 2.35), (2.95, 2.50), (3.07, 2.65), (1.40, 1.25), (1.68, 1.50),
    (1.92, 1.72), (2.15, 1.92), (2.38, 2.12), (2.62, 2.30), (2.86, 2.58), (3.12, 2.85),
    (2.40, 1.60), (2.52, 1.42), (2.68, 1.70), (2.75, 1.50), (2.30, 1.52), (2.48, 1.72),
    (2.90, 2.00), (3.05, 2.30),
]

# reference lines y = ratio * x
ratios = [1000, 100, 10, 1, 0.1, 0.01, 0.001]
ratio_colors = ["#F47C7C", "#F26B6B", "#F26B6B", "#A8201F", "#8FB1D3", "#8FB1D3", "#9DBBD8"]
ratio_widths = [0.7, 1.2, 2.3, 2.6, 2.3, 1.2, 0.7]

BG = "#EBEBEB"
TICK_GRAY = "#4D4D4D"


def tex_pow(k):
    return r"$10^{%d}$" % k


def draw_panel(ax, groups, xlim, ylim, xmajor, xminor, ymajor, yminor):
    ax.set_xscale("log")
    ax.set_yscale("log")
    ax.set_facecolor(BG)
    for s in ax.spines.values():
        s.set_visible(False)

    ax.set_xticks([10.0 ** k for k in xmajor])
    ax.set_xticklabels([tex_pow(k) for k in xmajor])
    ax.set_xticks([10.0 ** k for k in xminor], minor=True)
    ax.set_yticks([10.0 ** k for k in ymajor])
    ax.set_yticklabels([tex_pow(k) for k in ymajor])
    ax.set_yticks([10.0 ** k for k in yminor], minor=True)
    ax.xaxis.set_minor_formatter(plt.NullFormatter())
    ax.yaxis.set_minor_formatter(plt.NullFormatter())

    ax.grid(True, which="major", color="white", linewidth=1.1, zorder=0)
    ax.grid(True, which="minor", color="white", linewidth=0.7, zorder=0)
    ax.set_axisbelow(True)
    ax.tick_params(which="major", length=4, width=1.0, color="#333333",
                   labelsize=15.5, labelcolor=TICK_GRAY, pad=3)
    ax.tick_params(which="minor", length=0)

    for r, c, w in zip(ratios, ratio_colors, ratio_widths):
        ax.axline((1.0, r), (10.0, 10.0 * r), color=c, linewidth=w, zorder=1)

    for g in groups:
        arr = np.array(g)
        ax.scatter(10.0 ** arr[:, 0], 10.0 ** arr[:, 1], s=17, color="black",
                   alpha=0.58, linewidths=0, zorder=2)

    ax.set_xlim(10.0 ** xlim[0], 10.0 ** xlim[1])
    ax.set_ylim(10.0 ** ylim[0], 10.0 ** ylim[1])


def main():
    plt.rcParams["mathtext.fontset"] = "cm"
    W, H = 1011, 498
    fig = plt.figure(figsize=(W / 100, H / 100), dpi=100)

    ax1 = fig.add_axes([78 / W, 1 - 372 / H, 375 / W, 364 / H])
    draw_panel(ax1, [primal_sparse, primal_band_low, primal_band_fill, primal_band_mid,
                     primal_band_core, primal_core_dense, primal_band_high],
               (-3.525, 3.90), (-3.29, 3.88), [-2, 0, 2], [-3, -1, 1, 3], [-2, 0, 2], [-3, -1, 1, 3])

    ax2 = fig.add_axes([681.7 / W, 1 - 381.7 / H, (W - 681.7) / W, 381.7 / H])
    draw_panel(ax2, [dual_sparse, dual_band_low, dual_band_high, dual_band_dense],
               (-3.005, 3.79), (-3.95, 3.87), [-3, -2, -1, 0, 1, 2, 3],
               [-2.5, -1.5, -0.5, 0.5, 1.5, 2.5, 3.5], [-2, 0, 2], [-3, -1, 1, 3])

    serif = "cmr10"
    fig.text(265 / W, 1 - 422 / H, "Primal integral without lifting", fontfamily=serif,
             fontsize=14.3, ha="center", va="center")
    fig.text(18 / W, 1 - 190 / H, "Primal integral with lifting", fontfamily=serif,
             fontsize=14.3, ha="center", va="center", rotation=90)
    fig.text(847 / W, 1 - 433 / H, "Dual integral without lifting", fontfamily=serif,
             fontsize=14.3, ha="center", va="center")
    fig.text(621 / W, 1 - 190 / H, "Dual integral with lifting", fontfamily=serif,
             fontsize=14.3, ha="center", va="center", rotation=90)

    base = 1 - 489 / H
    fig.text(-11 / W, base, "(a)", fontfamily="Roboto", fontweight="bold",
             fontsize=18, ha="left", va="baseline")
    fig.text(28 / W, base, "Primal integrals.", fontfamily=serif,
             fontsize=16.3, ha="left", va="baseline")
    fig.text(572 / W, base, "(b)", fontfamily="Roboto", fontweight="bold",
             fontsize=18, ha="left", va="baseline")
    fig.text(609 / W, base, "Dual integrals.", fontfamily=serif,
             fontsize=16.3, ha="left", va="baseline")

    fig.savefig("out.png", dpi=100)


if __name__ == "__main__":
    main()
